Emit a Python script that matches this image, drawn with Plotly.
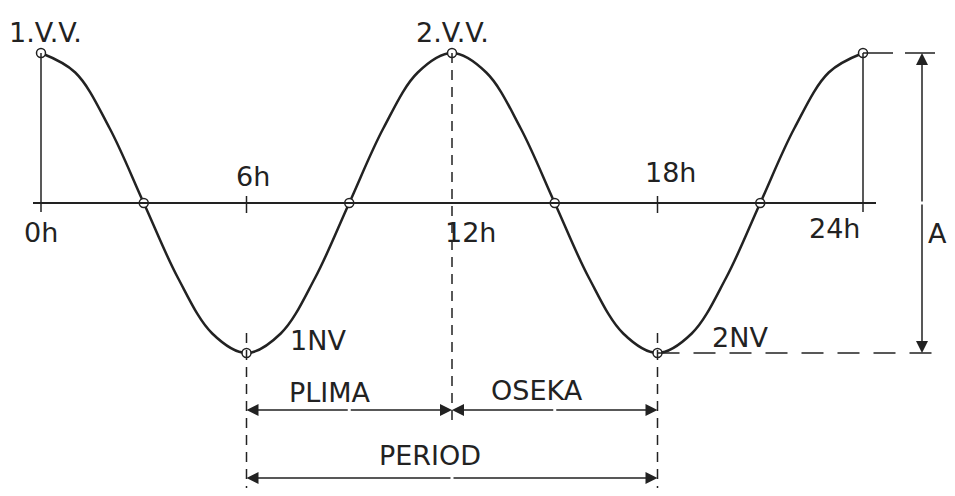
import plotly.graph_objects as go

# tide curve (hours vs. relative water level)
hours = [0, 1, 2, 3, 4, 5, 6, 7, 8, 9, 10, 11, 12, 13, 14, 15, 16, 17, 18, 19, 20, 21, 22, 23, 24]
level = [1.0, 0.87, 0.5, 0.0, -0.5, -0.87, -1.0, -0.87, -0.5, 0.0, 0.5, 0.87, 1.0,
         0.87, 0.5, 0.0, -0.5, -0.87, -1.0, -0.87, -0.5, 0.0, 0.5, 0.87, 1.0]

# marked points (high water, low water, mean level crossings)
mark_hours = [0, 3, 6, 9, 12, 15, 18, 21, 24]
mark_level = [1, 0, -1, 0, 1, 0, -1, 0, 1]

tick_hours = [0, 6, 12, 18, 24]
tick_labels = ["0h", "6h", "12h", "18h", "24h"]

INK = "#222222"
W, H = 955, 496
OFF = 8                   # page body margin
X0, PX_H = 41, 34.25      # pixel of 0h, pixels per hour
Y0, PX_A = 203, 150       # pixel of mean level, pixels per unit level


def hx(p):
    return (p - X0) / PX_H


def ly(p):
    return (Y0 - p) / PX_A


fig = go.Figure()

fig.add_trace(go.Scatter(x=hours, y=level, mode="lines",
                         line=dict(color=INK, width=2.5, shape="spline", smoothing=1.0),
                         hoverinfo="skip", showlegend=False))

shapes = []
# time axis
shapes.append(dict(type="line", x0=hx(33), x1=hx(876), y0=0, y1=0, line=dict(color=INK, width=2.2)))
# vertical at 0h and 24h
shapes.append(dict(type="line", x0=0, x1=0, y0=ly(212), y1=1, line=dict(color=INK, width=1.5)))
shapes.append(dict(type="line", x0=24, x1=24, y0=ly(212), y1=1, line=dict(color=INK, width=1.5)))
# small ticks at 6h and 18h
for t in (6, 18):
    shapes.append(dict(type="line", x0=t, x1=t, y0=ly(196), y1=ly(213), line=dict(color=INK, width=1.5)))
# dashed lines
dash = "10px,7px"
shapes.append(dict(type="line", x0=12, x1=12, y0=1, y1=ly(423), line=dict(color=INK, width=1.5, dash=dash)))
for t in (6, 18):
    shapes.append(dict(type="line", x0=t, x1=t, y0=ly(333), y1=ly(490), line=dict(color=INK, width=1.5, dash=dash)))
# extension lines for amplitude
shapes.append(dict(type="line", x0=24, x1=hx(940), y0=1, y1=1, line=dict(color=INK, width=1.5, dash="30px,12px")))
shapes.append(dict(type="line", x0=18, x1=hx(942), y0=-1, y1=-1, line=dict(color=INK, width=1.5, dash="22px,14px")))
fig.update_layout(shapes=shapes)

fig.add_trace(go.Scatter(x=mark_hours, y=mark_level, mode="markers",
                         marker=dict(symbol="circle", size=9, color="white",
                                     line=dict(color=INK, width=1.5)),
                         hoverinfo="skip", showlegend=False))

ann = []


def arrow(x_from, y_from, x_to, y_to):
    ann.append(dict(x=x_to, y=y_to, ax=x_from, ay=y_from, xref="x", yref="y",
                    axref="x", ayref="y", text="", showarrow=True, arrowhead=2,
                    arrowsize=1.6, arrowwidth=1.5, arrowcolor=INK, standoff=0, startstandoff=0))


y_pl = ly(410)
arrow(9, y_pl, 6, y_pl)
arrow(9, y_pl, 12, y_pl)
arrow(15, y_pl, 12, y_pl)
arrow(15, y_pl, 18, y_pl)
y_per = ly(478)
arrow(12, y_per, 6, y_per)
arrow(12, y_per, 18, y_per)
x_a = hx(922)
arrow(x_a, 0, x_a, 1)
arrow(x_a, 0, x_a, -1)


def label(text, xp, yp):
    ann.append(dict(x=hx(xp), y=ly(yp), xref="x", yref="y", text=text, showarrow=False,
                    font=dict(family="DejaVu Sans", size=27, color=INK),
                    xanchor="center", yanchor="middle"))


label("1.V.V.", 45, 32)
label("2.V.V.", 452, 32)
tick_pos = [(41, 232), (253, 176), (470, 232), (670, 172), (834, 228)]
for lab, (xp, yp) in zip(tick_labels, tick_pos):
    label(lab, xp, yp)
label("1NV", 318, 340)
label("2NV", 740, 337)
label("A", 937, 233)
label("PLIMA", 330, 392)
label("OSEKA", 537, 390)
label("PERIOD", 430, 455)

fig.update_layout(annotations=ann)

# the page puts the plot 8px in from each edge; keep inside so nothing scrolls
fig.update_layout(
    width=W - 2 * OFF, height=H - 2 * OFF, autosize=False,
    margin=dict(l=0, r=0, t=0, b=0),
    plot_bgcolor="white", paper_bgcolor="white",
    xaxis=dict(range=[hx(OFF), hx(W - OFF)], visible=False, fixedrange=True),
    yaxis=dict(range=[ly(H - OFF), ly(OFF)], visible=False, fixedrange=True),
)

fig.write_html("out.html")
